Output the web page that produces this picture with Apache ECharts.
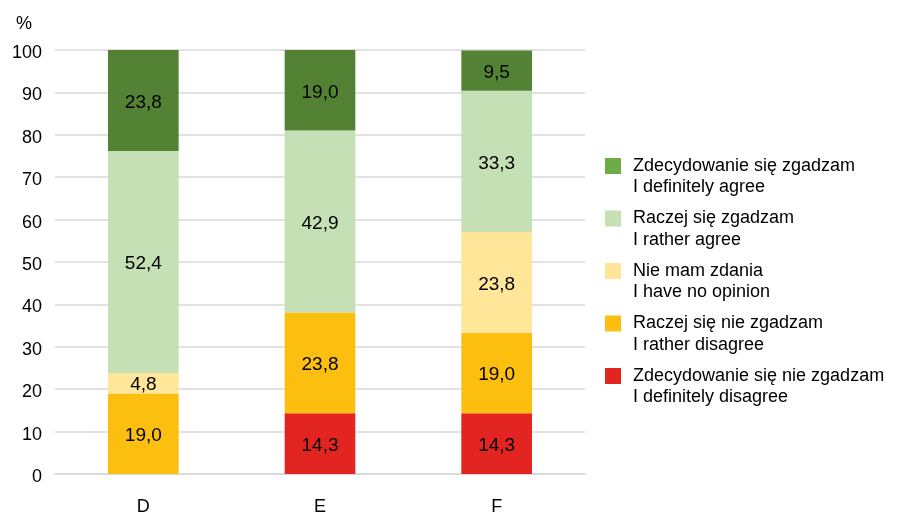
<!DOCTYPE html>
<html>
<head>
<meta charset="utf-8">
<script src="https://cdn.jsdelivr.net/npm/echarts@6/dist/echarts.min.js"></script>
<style>
  html, body { margin: 0; padding: 0; background: #fff; }
  #chart { width: 897px; height: 516px; }
</style>
</head>
<body>
<div id="chart"></div>
<script>
// Categories on the x axis
const categories = ['D', 'E', 'F'];

// Series names (Polish + English), listed bottom of the stack first
const seriesNames = [
  'Zdecydowanie się nie zgadzam\nI definitely disagree',
  'Raczej się nie zgadzam\nI rather disagree',
  'Nie mam zdania\nI have no opinion',
  'Raczej się zgadzam\nI rather agree',
  'Zdecydowanie się zgadzam\nI definitely agree'
];

// Percentages per category
const definitelyDisagree = [0, 14.3, 14.3];
const ratherDisagree     = [19.0, 23.8, 19.0];
const noOpinion          = [4.8, 0, 23.8];
const ratherAgree        = [52.4, 42.9, 33.3];
const definitelyAgree    = [23.8, 19.0, 9.5];

const seriesValues = [definitelyDisagree, ratherDisagree, noOpinion, ratherAgree, definitelyAgree];
const seriesColors = ['#E32522', '#FCBF0F', '#FFE699', '#C5E0B4', '#548235'];
// Swatch colours in the legend (the top one is a lighter green than its bars)
const legendColors = ['#E32522', '#FCBF0F', '#FFE699', '#C5E0B4', '#6FAC46'];

// Y axis ticks
const yMin = 0, yMax = 100, yStep = 10;

const fontFamily = 'Liberation Sans, Arial, sans-serif';

// Legend swatch: a 16px square in the upper part of a 16x43 box,
// so it lines up with the first line of each two-line label
const legendIcon = 'path://M0,0L0.01,0M0,3H16V19H0ZM0,43L0.01,43';

const chart = echarts.init(document.getElementById('chart'), null, { renderer: 'canvas' });

const series = seriesNames.map((name, i) => ({
  name: name,
  type: 'bar',
  stack: 'total',
  barWidth: '40%',
  data: seriesValues[i],
  itemStyle: { color: seriesColors[i] },
  label: {
    show: true,
    position: 'inside',
    offset: [0, 2],
    color: '#000',
    fontSize: 19,
    fontFamily: fontFamily,
    formatter: p => (p.value > 0 ? p.value.toFixed(1).replace('.', ',') : '')
  }
}));

const legendData = seriesNames
  .map((name, i) => ({ name: name, itemStyle: { color: legendColors[i] } }))
  .reverse();

chart.setOption({
  animation: false,
  grid: { left: 55, right: 312, top: 50, bottom: 40 },
  xAxis: {
    type: 'category',
    data: categories,
    axisLine: { show: true, lineStyle: { color: '#d9d9d9', width: 1.5 } },
    axisTick: { show: false },
    axisLabel: { color: '#000', fontSize: 18, fontFamily: fontFamily, margin: 24 }
  },
  yAxis: {
    type: 'value',
    min: yMin,
    max: yMax,
    interval: yStep,
    name: '%',
    nameLocation: 'end',
    nameGap: 17,
    nameTextStyle: { color: '#000', fontSize: 18, fontFamily: fontFamily, align: 'center', padding: [0, 62, 0, 0] },
    axisLine: { show: false },
    axisTick: { show: false },
    axisLabel: { color: '#000', fontSize: 18, fontFamily: fontFamily, margin: 13, lineHeight: 24, verticalAlign: 'top', padding: [-9, 0, 0, 0] },
    splitLine: { lineStyle: { color: '#d9d9d9', width: 1.5 } }
  },
  legend: {
    orient: 'vertical',
    left: 605,
    top: 155,
    padding: 0,
    itemWidth: 16,
    itemHeight: 43,
    itemGap: 9.5,
    icon: legendIcon,
    data: legendData,
    textStyle: {
      color: '#000',
      fontSize: 18,
      fontFamily: fontFamily,
      lineHeight: 21.5,
      padding: [0, 0, 0, 7]
    }
  },
  series: series
});
</script>
</body>
</html>
